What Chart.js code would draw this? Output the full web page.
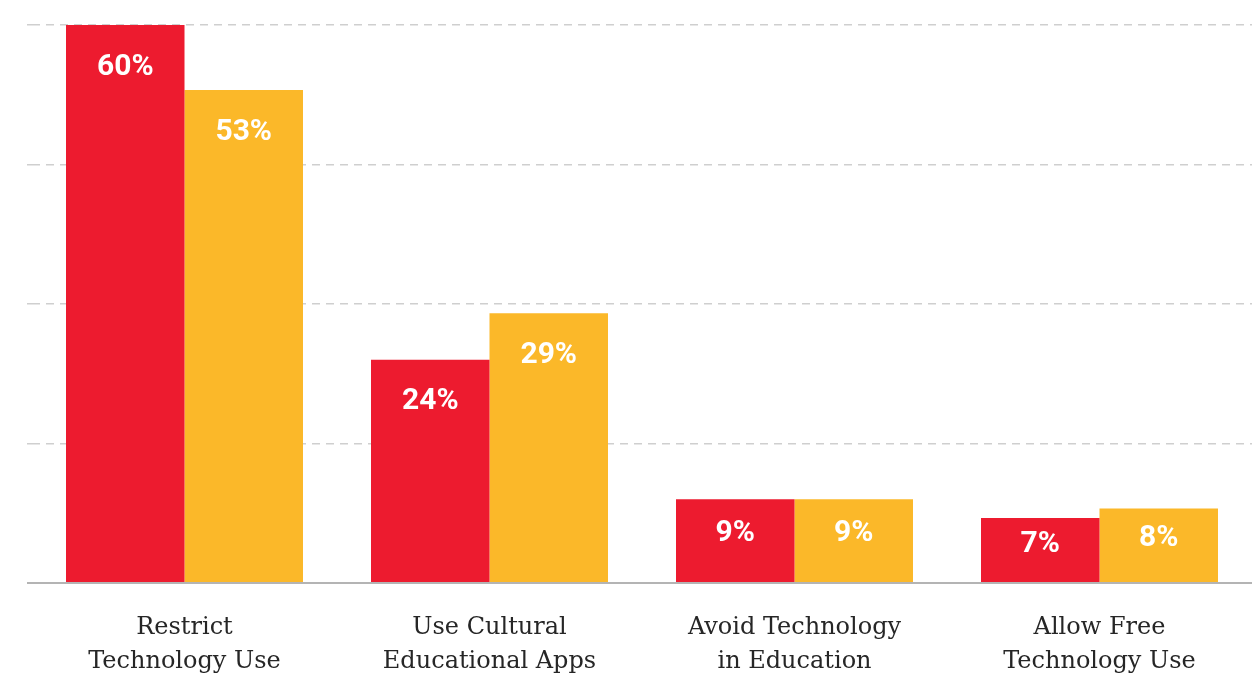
<!DOCTYPE html>
<html lang="en">
  <head>
    <meta charset="UTF-8" />
    <title>Technology Use Chart</title>
    <script src="https://cdn.jsdelivr.net/npm/chart.js"></script>
    <style>
      body { margin: 0; background: #fff; }
    </style>
  </head>
  <body>
    <canvas id="techChart" width="1252" height="675"></canvas>
    <script>
      var categories = [
        ["Restrict", "Technology Use"],
        ["Use Cultural", "Educational Apps"],
        ["Avoid Technology", "in Education"],
        ["Allow Free", "Technology Use"]
      ];
      var seriesRed = [60, 24, 9, 7];
      var seriesYellow = [53, 29, 9, 8];
      var yTicks = [0, 15, 30, 45, 60];

      // white percentage labels inside the top of each bar
      var valueLabels = {
        id: "valueLabels",
        afterDatasetsDraw: function (chart) {
          var ctx = chart.ctx;
          ctx.save();
          ctx.fillStyle = "#ffffff";
          ctx.font = "bold 30px Roboto";
          ctx.textAlign = "center";
          ctx.textBaseline = "middle";
          chart.data.datasets.forEach(function (ds, i) {
            chart.getDatasetMeta(i).data.forEach(function (bar, j) {
              var h = bar.base - bar.y;
              var off = Math.min(42, h * 0.41);
              ctx.fillText(ds.data[j] + "%", bar.x, bar.y + off);
            });
          });
          ctx.restore();
        }
      };

      // solid grey baseline at zero, running under the dashed grid start
      var baseline = {
        id: "baseline",
        afterDatasetsDraw: function (chart) {
          var y = chart.scales.y;
          var py = y.getPixelForValue(0);
          var ctx = chart.ctx;
          ctx.save();
          ctx.strokeStyle = "#b4b4b4";
          ctx.lineWidth = 2;
          ctx.beginPath();
          ctx.moveTo(y.left, py);
          ctx.lineTo(chart.chartArea.right, py);
          ctx.stroke();
          ctx.restore();
        }
      };

      var ctx = document.getElementById("techChart").getContext("2d");
      var techChart = new Chart(ctx, {
        type: "bar",
        data: {
          labels: categories,
          datasets: [
            {
              label: "Red",
              data: seriesRed,
              backgroundColor: "#ed1b2f",
              categoryPercentage: 0.777,
              barPercentage: 1.0
            },
            {
              label: "Yellow",
              data: seriesYellow,
              backgroundColor: "#fbb829",
              categoryPercentage: 0.777,
              barPercentage: 1.0
            }
          ]
        },
        options: {
          responsive: false,
          animation: false,
          layout: { padding: { left: 27, top: 25, right: 0, bottom: 0 } },
          plugins: {
            legend: { display: false },
            tooltip: { enabled: false }
          },
          scales: {
            x: {
              grid: { display: false },
              border: { display: false },
              ticks: {
                color: "#262626",
                padding: 20,
                font: { family: "DejaVu Serif", size: 24, lineHeight: 1.42 }
              },
              afterFit: function (scale) {
                scale.height = 92;
              }
            },
            y: {
              min: 0,
              max: 60,
              afterBuildTicks: function (scale) {
                scale.ticks = yTicks.map(function (v) { return { value: v }; });
              },
              ticks: { display: false },
              border: { display: false, dash: [8, 6] },
              grid: {
                color: function (c) {
                  return c.tick && c.tick.value === 0 ? "rgba(0,0,0,0)" : "#cfcfcf";
                },
                lineWidth: 1.5,
                drawTicks: true,
                tickLength: 5,
                tickBorderDash: [8, 6]
              }
            }
          }
        },
        plugins: [valueLabels, baseline]
      });
    </script>
  </body>
</html>
